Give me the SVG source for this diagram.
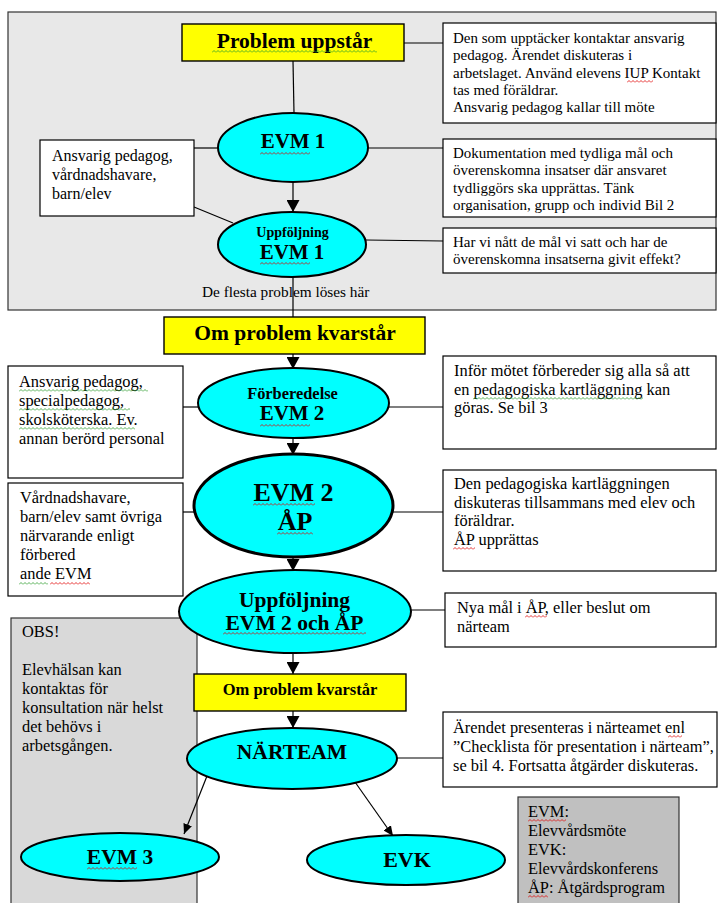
<svg xmlns="http://www.w3.org/2000/svg" width="718" height="903" viewBox="0 0 718 903">
<style>
.t{font-family:"Liberation Serif","Times New Roman",serif;fill:#000}
.b{font-weight:bold}
.c{text-anchor:middle}
.box{fill:#fff;stroke:#000;stroke-width:1.2}
.yel{fill:#ff0;stroke:#000;stroke-width:1.4}
.ell{fill:#0ff;stroke:#000;stroke-width:2}
.ln{stroke:#000;stroke-width:1.2;fill:none}
.ar{marker-end:url(#ah)}
.ar2{marker-end:url(#ah2)}
.wr{fill:url(#pr)}
.wg{fill:url(#pg)}
.s15{font-size:15px}
.s16{font-size:16.4px}
</style>
<defs>
<marker id="ah" markerUnits="userSpaceOnUse" markerWidth="13" markerHeight="13" refX="12" refY="6.5" orient="auto"><path d="M0 0 L12 6.5 L0 13 z" fill="#000"/></marker>
<marker id="ah2" markerUnits="userSpaceOnUse" markerWidth="11" markerHeight="9" refX="10" refY="4.5" orient="auto"><path d="M0 0 L10 4.5 L0 9 z" fill="#000"/></marker>
<pattern id="pr" patternUnits="userSpaceOnUse" width="4" height="3"><path d="M0 2.5 L2 0.5 L4 2.5" fill="none" stroke="#e00000" stroke-width="0.8"/></pattern>
<pattern id="pg" patternUnits="userSpaceOnUse" width="4" height="3"><path d="M0 2.5 L2 0.5 L4 2.5" fill="none" stroke="#2a9a2a" stroke-width="0.8"/></pattern>
</defs>
<rect width="718" height="903" fill="#fff"/>
<g id="panel-top"><rect x="8" y="12" width="708" height="298" fill="#e8e8e8" stroke="#333" stroke-width="1.2"/></g>
<g id="obs"><rect x="11" y="618" width="186" height="295" fill="#d9d9d9" stroke="#333" stroke-width="1.2"/>
<text class="t s16" x="22"><tspan y="637">OBS!</tspan><tspan x="22" y="675">Elevhälsan kan</tspan><tspan x="22" y="694">kontaktas  för</tspan><tspan x="22" y="713">konsultation när helst</tspan><tspan x="22" y="732">det behövs i</tspan><tspan x="22" y="751">arbetsgången.</tspan></text></g>
<g id="connectors">
<line class="ln" x1="293" y1="61" x2="294" y2="113"/>
<line class="ln" x1="404" y1="43" x2="443" y2="43"/>
<line class="ln" x1="194" y1="148" x2="218" y2="148"/>
<line class="ln" x1="368" y1="148" x2="443" y2="148"/>
<line class="ln" x1="194" y1="207" x2="233" y2="223"/>
<line class="ln ar" x1="293" y1="182" x2="293" y2="212"/>
<line class="ln" x1="366" y1="240" x2="443" y2="241"/>
<line class="ln" x1="293" y1="277" x2="293" y2="317"/>
<line class="ln ar" x1="293" y1="354" x2="293" y2="369"/>
<line class="ln" x1="183" y1="407" x2="198" y2="407"/>
<line class="ln" x1="389" y1="407" x2="443" y2="407"/>
<line class="ln ar" x1="293" y1="438" x2="293" y2="455"/>
<line class="ln" x1="183" y1="512" x2="195" y2="512"/>
<line class="ln" x1="393" y1="512" x2="443" y2="512"/>
<line class="ln ar" x1="293" y1="557" x2="293" y2="571"/>
<line class="ln" x1="411" y1="610" x2="445" y2="610"/>
<line class="ln ar" x1="293" y1="653" x2="293" y2="674"/>
<line class="ln ar" x1="293" y1="711" x2="293" y2="728"/>
<line class="ln" x1="397" y1="758" x2="443" y2="758"/>
<line class="ln ar2" x1="207" y1="776" x2="184" y2="834"/>
<line class="ln ar2" x1="355" y1="782" x2="393" y2="836"/>
</g>
<g id="problem-uppstar"><rect class="yel" x="182" y="24" width="222" height="37"/><text class="t b c" x="294.5" y="48" font-size="21.5">Problem  uppstår</text><rect class="wg" width="165" height="3" transform="translate(212,50)"/></g>
<g id="box-kontakt"><rect class="box" x="443" y="23" width="273" height="100"/>
<text class="t s15" x="453"><tspan y="43">Den som upptäcker kontaktar ansvarig</tspan><tspan x="453" y="60.3">pedagog. Ärendet diskuteras i</tspan><tspan x="453" y="77.6">arbetslaget. Använd elevens IUP Kontakt</tspan><tspan x="453" y="95">tas med föräldrar.</tspan><tspan x="453" y="112.2">Ansvarig pedagog kallar till möte</tspan></text>
<rect class="wr" width="26" height="3" transform="translate(627,80)"/></g>
<g id="evm1"><ellipse class="ell" cx="293" cy="147.5" rx="75" ry="34.5"/><text class="t b c" x="293" y="148" font-size="21">EVM 1</text><rect class="wr" width="50" height="3" transform="translate(260,152)"/></g>
<g id="box-deltagare1"><rect class="box" x="40" y="140" width="154" height="76"/>
<text class="t" x="52" font-size="16"><tspan y="161">Ansvarig pedagog,</tspan><tspan x="52" y="180">vårdnadshavare,</tspan><tspan x="52" y="199">barn/elev</tspan></text></g>
<g id="box-dokumentation"><rect class="box" x="443" y="139" width="273" height="78"/>
<text class="t s15" x="453"><tspan y="158">Dokumentation med tydliga mål och</tspan><tspan x="453" y="175.3">överenskomna insatser där ansvaret</tspan><tspan x="453" y="192.6">tydliggörs ska upprättas. Tänk</tspan><tspan x="453" y="210">organisation, grupp och individ  Bil 2</tspan></text></g>
<g id="uppfoljning1"><ellipse class="ell" cx="292" cy="244.5" rx="74" ry="32.5"/><text class="t b c" x="292.5" y="237" font-size="14">Uppföljning</text><text class="t b c" x="292" y="259" font-size="21">EVM 1</text><rect class="wr" width="50" height="3" transform="translate(260,262)"/></g>
<g id="box-effekt"><rect class="box" x="443" y="228" width="273" height="45"/>
<text class="t s15" x="453"><tspan y="247">Har vi nått de mål vi satt och har de</tspan><tspan x="453" y="264">överenskomna insatserna givit effekt?</tspan></text></g>
<g id="label-flesta"><text class="t" x="202" y="297" font-size="15.3">De flesta  problem löses här</text></g>
<g id="om-problem-1"><rect class="yel" x="164" y="317" width="261" height="37"/><text class="t b c" x="295" y="340" font-size="21.5">Om problem kvarstår</text></g>
<g id="box-deltagare2"><rect class="box" x="8" y="366" width="175" height="112"/>
<text class="t s16" x="19"><tspan y="387">Ansvarig pedagog,</tspan><tspan x="19" y="406">specialpedagog,</tspan><tspan x="19" y="425">skolsköterska. Ev.</tspan><tspan x="19" y="444">annan berörd personal</tspan></text>
<rect class="wg" width="129" height="3" transform="translate(19,389)"/><rect class="wg" width="111" height="3" transform="translate(19,408)"/><rect class="wg" width="116" height="3" transform="translate(19,427)"/></g>
<g id="forberedelse"><ellipse class="ell" cx="293.5" cy="403" rx="95.5" ry="35"/><text class="t b c" x="292.5" y="399" font-size="16.4">Förberedelse</text><text class="t b c" x="292" y="420" font-size="21">EVM 2</text><rect class="wr" width="50" height="3" transform="translate(260,424)"/></g>
<g id="box-infor"><rect class="box" x="443" y="356" width="273" height="93"/>
<text class="t s16" x="454"><tspan y="376">Inför mötet förbereder sig alla så att</tspan><tspan x="454" y="395">en pedagogiska kartläggning kan</tspan><tspan x="454" y="413">göras.  Se bil 3</tspan></text>
<rect class="wg" width="170" height="3" transform="translate(473,397)"/></g>
<g id="box-deltagare3"><rect class="box" x="8" y="483" width="175" height="113"/>
<text class="t s16" x="20"><tspan y="503">Vårdnadshavare,</tspan><tspan x="20" y="522">barn/elev samt övriga</tspan><tspan x="20" y="541">närvarande enligt</tspan><tspan x="20" y="560">förbered</tspan><tspan x="20" y="579">ande EVM</tspan></text>
<rect class="wg" width="29" height="3" transform="translate(19,582)"/><rect class="wr" width="40" height="3" transform="translate(50,582)"/></g>
<g id="evm2-ap"><ellipse cx="293.5" cy="505.5" rx="99.5" ry="51.5" fill="#0ff" stroke="#000" stroke-width="3"/><text class="t b c" x="293.5" y="501" font-size="26">EVM 2</text><text class="t b c" x="295" y="530" font-size="26">ÅP</text><rect class="wr" width="62" height="3" transform="translate(253,503)"/><rect class="wr" width="36" height="3" transform="translate(277,532)"/></g>
<g id="box-kartlaggning"><rect class="box" x="443" y="470" width="273" height="101"/>
<text class="t s16" x="454"><tspan y="489">Den pedagogiska kartläggningen</tspan><tspan x="454" y="507.5">diskuteras tillsammans med elev och</tspan><tspan x="454" y="526">föräldrar.</tspan><tspan x="454" y="544.5">ÅP upprättas</tspan></text>
<rect class="wr" width="22" height="3" transform="translate(453,547)"/></g>
<g id="uppfoljning2"><ellipse class="ell" cx="295" cy="611.5" rx="116" ry="41.5"/><text class="t b c" x="294.5" y="607" font-size="21.5">Uppföljning</text><text class="t b c" x="294.5" y="630" font-size="21.5">EVM 2 och ÅP</text><rect class="wr" width="143" height="3" transform="translate(223,632)"/></g>
<g id="box-nya-mal"><rect class="box" x="445" y="593" width="271" height="54"/>
<text class="t s16" x="457"><tspan y="613">Nya mål i ÅP, eller beslut om</tspan><tspan x="457" y="632">närteam</tspan></text>
<rect class="wr" width="22" height="3" transform="translate(525,615)"/></g>
<g id="om-problem-2"><rect class="yel" x="194" y="674" width="212" height="37"/><text class="t b c" x="300" y="695" font-size="16.5">Om problem kvarstår</text></g>
<g id="narteam"><ellipse class="ell" cx="292" cy="758.5" rx="105" ry="30.5"/><text class="t b c" x="292" y="759" font-size="21.5">NÄRTEAM</text></g>
<g id="box-narteam"><rect class="box" x="443" y="712" width="274" height="75"/>
<text class="t" x="453" font-size="16.4"><tspan y="733">Ärendet presenteras i närteamet enl</tspan><tspan x="453" y="752">”Checklista för presentation i närteam”,</tspan><tspan x="453" y="771">se bil 4. Fortsatta åtgärder diskuteras.</tspan></text>
<rect class="wr" width="14" height="3" transform="translate(668,735)"/></g>
<g id="evm3"><ellipse class="ell" cx="120" cy="857" rx="99" ry="24"/><text class="t b c" x="120" y="864" font-size="21.5">EVM 3</text><rect class="wr" width="50" height="3" transform="translate(87,867)"/></g>
<g id="evk"><ellipse class="ell" cx="406" cy="860" rx="99" ry="25"/><text class="t b c" x="407" y="867" font-size="22">EVK</text></g>
<g id="legend"><rect x="518" y="797" width="161" height="115" fill="#c0c0c0" stroke="#333" stroke-width="1.2"/>
<text class="t s16" x="528"><tspan y="817">EVM:</tspan><tspan x="528" y="836">Elevvårdsmöte</tspan><tspan x="528" y="855">EVK:</tspan><tspan x="528" y="874">Elevvårdskonferens</tspan><tspan x="528" y="893">ÅP: Åtgärdsprogram</tspan></text>
<rect class="wr" width="38" height="3" transform="translate(528,819)"/><rect class="wr" width="20" height="3" transform="translate(528,895)"/></g>
</svg>
